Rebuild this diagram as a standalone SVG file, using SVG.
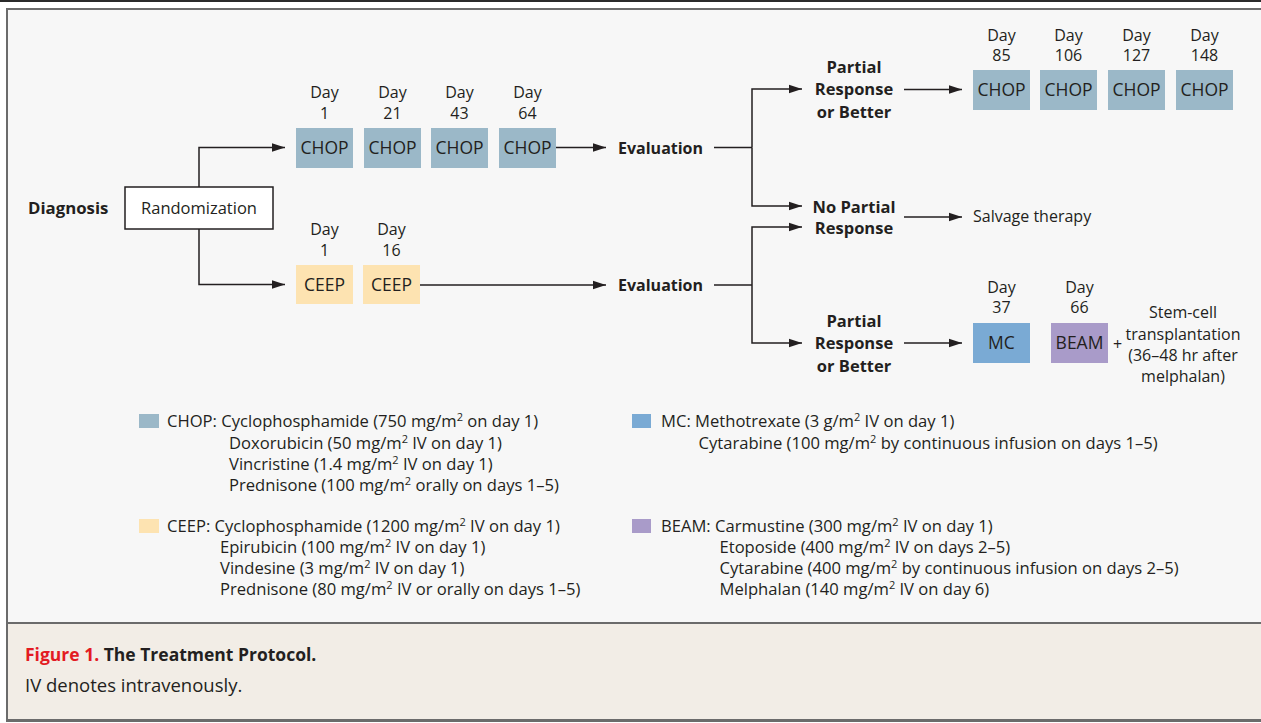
<svg xmlns="http://www.w3.org/2000/svg" width="1261" height="723" viewBox="0 0 1261 723">
<defs>
<style>
text{font-family:"Open Sans","Noto Sans",sans-serif;fill:#231f20;font-size:16px}
.b{font-weight:700}
.c{text-anchor:middle}
.bx{font-size:17.5px}
.lb{font-size:16.5px}
.lg{font-size:16.6px}
.cap{font-size:17.5px}
.ln{fill:none;stroke:#231f20;stroke-width:1.5}
.ar{marker-end:url(#ah)}
.chop{fill:#9bb8c8}
.ceep{fill:#fde3b1}
.mc{fill:#7aaad4}
.beam{fill:#a99bc9}
.brd{fill:#6b6b6b}
</style>
<marker id="ah" markerUnits="userSpaceOnUse" markerWidth="14" markerHeight="10" refX="13" refY="5" orient="auto">
<path d="M0,0.8 L13,5 L0,9.2 Z" fill="#231f20"/>
</marker>
</defs>
<rect x="0" y="0" width="1261" height="723" fill="#ffffff"/>
<rect x="0" y="0" width="1261" height="2" fill="#2a2a2a"/>
<rect x="8" y="10" width="1253" height="613" fill="#f7f7f7"/>
<rect x="8" y="624" width="1253" height="96" fill="#f2ede6"/>
<rect class="brd" x="7" y="8" width="1254" height="2"/>
<rect class="brd" x="6" y="8" width="2" height="714"/>
<rect class="brd" x="7" y="622" width="1254" height="2"/>
<rect class="brd" x="7" y="719" width="1254" height="3"/>

<g id="connectors">
<path class="ln ar" d="M199,187 V147.5 H285"/>
<path class="ln ar" d="M199,229 V284.5 H285"/>
<path class="ln ar" d="M556,147.5 H606"/>
<path class="ln ar" d="M420,285 H606"/>
<path class="ln" d="M714,147.5 H752"/>
<path class="ln ar" d="M752,147.5 V89 H802"/>
<path class="ln ar" d="M752,147.5 V206 H802"/>
<path class="ln" d="M714,285 H752"/>
<path class="ln ar" d="M752,285 V227 H802"/>
<path class="ln ar" d="M752,285 V343 H802"/>
<path class="ln ar" d="M904,89.5 H962"/>
<path class="ln ar" d="M904,217 H962"/>
<path class="ln ar" d="M904,343 H962"/>
</g>

<g id="diagnosis"><text class="b" x="28" y="214" style="font-size:16.8px">Diagnosis</text></g>
<g id="randomization">
<rect x="125" y="187" width="148" height="42" fill="#ffffff" stroke="#231f20" stroke-width="1.5"/>
<text class="c" x="199" y="214" style="font-size:16.5px">Randomization</text>
</g>

<g id="chop1"><text class="c" x="324.5" y="97.5">Day</text><text class="c" x="324.5" y="118.5">1</text><rect class="chop" x="296" y="128" width="57" height="40"/><text class="c bx" x="324.5" y="153.5">CHOP</text></g>
<g id="chop2"><text class="c" x="392.5" y="97.5">Day</text><text class="c" x="392.5" y="118.5">21</text><rect class="chop" x="364" y="128" width="57" height="40"/><text class="c bx" x="392.5" y="153.5">CHOP</text></g>
<g id="chop3"><text class="c" x="459.5" y="97.5">Day</text><text class="c" x="459.5" y="118.5">43</text><rect class="chop" x="431" y="128" width="57" height="40"/><text class="c bx" x="459.5" y="153.5">CHOP</text></g>
<g id="chop4"><text class="c" x="527.5" y="97.5">Day</text><text class="c" x="527.5" y="118.5">64</text><rect class="chop" x="499" y="128" width="57" height="40"/><text class="c bx" x="527.5" y="153.5">CHOP</text></g>

<g id="ceep1"><text class="c" x="324.5" y="235">Day</text><text class="c" x="324.5" y="256">1</text><rect class="ceep" x="296" y="265" width="57" height="39"/><text class="c bx" x="324.5" y="291">CEEP</text></g>
<g id="ceep2"><text class="c" x="391.5" y="235">Day</text><text class="c" x="391.5" y="256">16</text><rect class="ceep" x="363" y="265" width="57" height="39"/><text class="c bx" x="391.5" y="291">CEEP</text></g>

<g id="evaluation1"><text class="b" x="618" y="154">Evaluation</text></g>
<g id="evaluation2"><text class="b" x="618" y="291">Evaluation</text></g>

<g id="partial1"><text class="b c lb" x="854" y="73">Partial</text><text class="b c lb" x="854" y="95">Response</text><text class="b c lb" x="854" y="117.5">or Better</text></g>
<g id="nopartial"><text class="b c lb" x="854" y="212.5">No Partial</text><text class="b c lb" x="854" y="234">Response</text></g>
<g id="partial2"><text class="b c lb" x="854" y="326.5">Partial</text><text class="b c lb" x="854" y="348.5">Response</text><text class="b c lb" x="854" y="372">or Better</text></g>

<g id="chop5"><text class="c" x="1001.5" y="40.5">Day</text><text class="c" x="1001.5" y="60.5">85</text><rect class="chop" x="973" y="70" width="57" height="40"/><text class="c bx" x="1001.5" y="96">CHOP</text></g>
<g id="chop6"><text class="c" x="1068.5" y="40.5">Day</text><text class="c" x="1068.5" y="60.5">106</text><rect class="chop" x="1040" y="70" width="57" height="40"/><text class="c bx" x="1068.5" y="96">CHOP</text></g>
<g id="chop7"><text class="c" x="1136.5" y="40.5">Day</text><text class="c" x="1136.5" y="60.5">127</text><rect class="chop" x="1108" y="70" width="57" height="40"/><text class="c bx" x="1136.5" y="96">CHOP</text></g>
<g id="chop8"><text class="c" x="1204.5" y="40.5">Day</text><text class="c" x="1204.5" y="60.5">148</text><rect class="chop" x="1176" y="70" width="57" height="40"/><text class="c bx" x="1204.5" y="96">CHOP</text></g>

<g id="salvage"><text x="973" y="222">Salvage therapy</text></g>

<g id="mc"><text class="c" x="1001.5" y="293">Day</text><text class="c" x="1001.5" y="313">37</text><rect class="mc" x="973" y="323" width="57" height="40"/><text class="c bx" x="1001.5" y="349">MC</text></g>
<g id="beam"><text class="c" x="1079.5" y="293">Day</text><text class="c" x="1079.5" y="313">66</text><rect class="beam" x="1051" y="323" width="57" height="40"/><text class="c bx" x="1079.5" y="349">BEAM</text></g>
<g id="plus"><text class="c" x="1117.5" y="350">+</text></g>
<g id="stemcell"><text class="c" x="1183" y="318">Stem-cell</text><text class="c" x="1183" y="339.5">transplantation</text><text class="c" x="1183" y="361">(36–48 hr after</text><text class="c" x="1183" y="382">melphalan)</text></g>

<g id="legend-chop">
<rect class="chop" x="139" y="414" width="20" height="14"/>
<text class="lg" x="167" y="427">CHOP: Cyclophosphamide (750 mg/m<tspan dy="-6" font-size="11">2</tspan><tspan dy="6"> on day 1)</tspan></text>
<text class="lg" x="229" y="448.5">Doxorubicin (50 mg/m<tspan dy="-6" font-size="11">2</tspan><tspan dy="6"> IV on day 1)</tspan></text>
<text class="lg" x="229" y="469.5">Vincristine (1.4 mg/m<tspan dy="-6" font-size="11">2</tspan><tspan dy="6"> IV on day 1)</tspan></text>
<text class="lg" x="229" y="490.5">Prednisone (100 mg/m<tspan dy="-6" font-size="11">2</tspan><tspan dy="6"> orally on days 1–5)</tspan></text>
</g>
<g id="legend-ceep">
<rect class="ceep" x="139" y="519" width="20" height="14"/>
<text class="lg" x="167" y="531.5">CEEP: Cyclophosphamide (1200 mg/m<tspan dy="-6" font-size="11">2</tspan><tspan dy="6"> IV on day 1)</tspan></text>
<text class="lg" x="220" y="553">Epirubicin (100 mg/m<tspan dy="-6" font-size="11">2</tspan><tspan dy="6"> IV on day 1)</tspan></text>
<text class="lg" x="220" y="574">Vindesine (3 mg/m<tspan dy="-6" font-size="11">2</tspan><tspan dy="6"> IV on day 1)</tspan></text>
<text class="lg" x="220" y="595">Prednisone (80 mg/m<tspan dy="-6" font-size="11">2</tspan><tspan dy="6"> IV or orally on days 1–5)</tspan></text>
</g>
<g id="legend-mc">
<rect class="mc" x="632" y="414" width="19" height="14"/>
<text class="lg" x="661" y="427">MC: Methotrexate (3 g/m<tspan dy="-6" font-size="11">2</tspan><tspan dy="6"> IV on day 1)</tspan></text>
<text class="lg" x="698.5" y="448.5">Cytarabine (100 mg/m<tspan dy="-6" font-size="11">2</tspan><tspan dy="6"> by continuous infusion on days 1–5)</tspan></text>
</g>
<g id="legend-beam">
<rect class="beam" x="632" y="519" width="19" height="14"/>
<text class="lg" x="661" y="531.5">BEAM: Carmustine (300 mg/m<tspan dy="-6" font-size="11">2</tspan><tspan dy="6"> IV on day 1)</tspan></text>
<text class="lg" x="719.5" y="553">Etoposide (400 mg/m<tspan dy="-6" font-size="11">2</tspan><tspan dy="6"> IV on days 2–5)</tspan></text>
<text class="lg" x="719.5" y="574">Cytarabine (400 mg/m<tspan dy="-6" font-size="11">2</tspan><tspan dy="6"> by continuous infusion on days 2–5)</tspan></text>
<text class="lg" x="719.5" y="595">Melphalan (140 mg/m<tspan dy="-6" font-size="11">2</tspan><tspan dy="6"> IV on day 6)</tspan></text>
</g>

<g id="caption">
<text class="cap b" x="25" y="661"><tspan fill="#e31b23">Figure 1.</tspan> The Treatment Protocol.</text>
<text x="25" y="692" style="font-size:18.5px">IV denotes intravenously.</text>
</g>
</svg>
